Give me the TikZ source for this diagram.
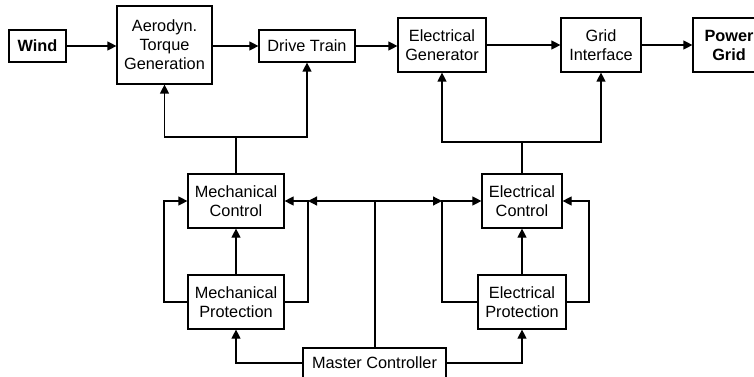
\documentclass[tikz,border=0pt]{standalone}
\usepackage{fontspec}
\setmainfont{Liberation Sans}
\usetikzlibrary{arrows.meta}

\tikzset{
  blk/.style={draw, line width=1.2pt, align=center, inner sep=0pt,
    font=\fontsize{16.3}{19}\selectfont},
  conn/.style={line width=1.2pt, -{Triangle[length=9pt,width=9pt]}},
  wire/.style={line width=1.2pt}
}

\begin{document}
\begin{tikzpicture}[x=1pt,y=-1pt]
      % Fix the page to the reference size
      \useasboundingbox (0,0) rectangle (754,377);

      % Top row of blocks
      \node[blk, font=\fontsize{16.3}{19}\selectfont\bfseries, minimum width=57pt, minimum height=32pt] (wind) at (37.5,46) {Wind};
      \node[blk, minimum width=95pt, minimum height=78pt] (aero) at (164.5,45) {Aerodyn.\\Torque\\Generation};
      \node[blk, minimum width=96pt, minimum height=32pt] (drive) at (307,46) {Drive Train};
      \node[blk, minimum width=88pt, minimum height=54pt] (egen) at (442,45) {Electrical\\Generator};
      \node[blk, minimum width=80pt, minimum height=54pt] (grid) at (601,45) {Grid\\Interface};
      \node[blk, font=\fontsize{16.3}{19}\selectfont\bfseries, minimum width=72pt, minimum height=54pt] (power) at (729,45) {Power\\Grid};

      % Control and protection blocks
      \node[blk, minimum width=96pt, minimum height=54pt] (mctrl) at (236,201) {Mechanical\\Control};
      \node[blk, minimum width=96pt, minimum height=54pt] (mprot) at (236,302) {Mechanical\\Protection};
      \node[blk, minimum width=80pt, minimum height=54pt] (ectrl) at (522,201) {Electrical\\Control};
      \node[blk, minimum width=88pt, minimum height=54pt] (eprot) at (522,302) {Electrical\\Protection};
      \node[blk, minimum width=143pt, minimum height=30pt] (master) at (374.5,363) {Master Controller};

      % Power flow
      \draw[conn] (wind) -- (aero.west |- wind);
      \draw[conn] (aero.east |- drive) -- (drive);
      \draw[conn] (drive) -- (egen.west |- drive);
      \draw[conn] (egen) -- (grid);
      \draw[conn] (grid) -- (power);

      % Mechanical control to the drive side
      \coordinate (mjoin) at (236,137);
      \draw[wire] (mctrl.north) -- (mjoin);
      \draw[conn] (mjoin) -| (aero.south);
      \draw[conn] (mjoin) -| (drive.south);

      % Electrical control to the grid side
      \coordinate (ejoin) at (522,142);
      \draw[wire] (ectrl.north) -- (ejoin);
      \draw[conn] (ejoin) -| (egen.south);
      \draw[conn] (ejoin) -| (grid.south);

      % Mechanical protection loops
      \coordinate (mleft) at (164,201);
      \coordinate (mright) at (308,201);
      \draw[conn] (mprot) -- (mctrl);
      \draw[conn] (mprot.west) -| (mleft) -- (mctrl.west);
      \draw[conn] (mprot.east) -| (mright) -- (mctrl.east);

      % Electrical protection loops
      \coordinate (eleft) at (442,201);
      \coordinate (eright) at (589,201);
      \draw[conn] (eprot) -- (ectrl);
      \draw[conn] (eprot.west) -| (eleft) -- (ectrl.west);
      \draw[conn] (eprot.east) -| (eright) -- (ectrl.east);

      % Master controller links
      \coordinate (mcjoin) at (375,201);
      \draw[wire] (master.north -| mcjoin) -- (mcjoin);
      \draw[conn] (mcjoin) -- (mright);
      \draw[conn] (mcjoin) -- (eleft);
      \draw[conn] (master.west) -| (mprot.south);
      \draw[conn] (master.east) -| (eprot.south);
    \end{tikzpicture}
\end{document}
